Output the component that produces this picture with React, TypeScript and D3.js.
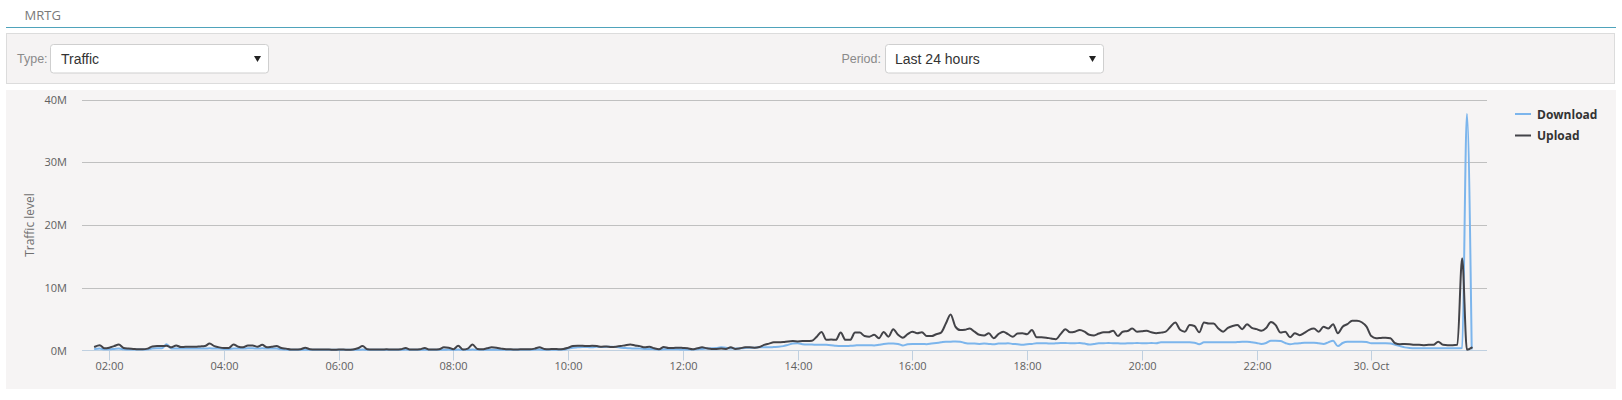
import React from "react";
import * as d3 from "d3";

const START = Date.UTC(2016, 9, 29, 1, 45);
const STEP_MIN = 5;

const UPLOAD: number[] = [
  0.6,0.85,0.35,0.45,0.7,0.95,0.4,0.3,0.25,0.2,0.2,0.3,
  0.65,0.7,0.7,0.75,0.5,0.8,0.55,0.6,0.6,0.6,0.65,0.7,
  1.1,0.7,0.5,0.4,0.4,0.95,0.6,0.5,0.8,0.8,0.6,0.9,
  0.5,0.6,0.7,0.4,0.3,0.15,0.15,0.2,0.45,0.2,0.15,0.15,
  0.15,0.15,0.1,0.15,0.15,0.1,0.15,0.35,0.7,0.2,0.15,0.15,
  0.15,0.2,0.15,0.15,0.2,0.4,0.15,0.15,0.2,0.4,0.15,0.15,
  0.2,0.5,0.45,0.2,0.75,0.15,0.3,0.95,0.25,0.2,0.35,0.5,
  0.45,0.3,0.2,0.2,0.15,0.2,0.2,0.2,0.3,0.5,0.25,0.2,
  0.25,0.2,0.25,0.45,0.7,0.75,0.75,0.7,0.75,0.7,0.6,0.65,
  0.55,0.6,0.7,0.85,0.95,0.8,0.7,0.5,0.6,0.35,0.2,0.55,
  0.4,0.4,0.45,0.4,0.35,0.2,0.35,0.5,0.35,0.25,0.25,0.3,
  0.25,0.5,0.25,0.35,0.5,0.5,0.45,0.55,0.9,1.1,1.3,1.3,
  1.35,1.45,1.5,1.45,1.5,1.5,1.55,2.2,2.95,1.7,1.75,1.7,
  2.85,1.7,1.7,2.85,2.85,2.3,2.2,2.5,1.95,2.95,2.2,3.4,
  2.5,2.05,2.6,3.0,2.75,2.9,2.3,2.3,2.6,2.85,4.3,5.75,
  3.8,3.25,3.3,3.5,3.0,2.5,2.4,2.75,1.95,2.6,3.0,2.6,
  2.2,2.7,2.75,2.6,3.25,2.1,2.1,2.05,1.9,1.8,2.6,3.4,
  2.9,3.0,3.25,3.0,2.5,2.4,2.7,2.9,2.9,3.15,2.3,3.0,
  3.1,3.5,3.0,3.05,3.15,2.9,2.75,2.85,3.0,3.8,4.45,3.3,
  3.0,4.05,3.9,2.9,4.45,4.3,4.3,3.5,3.0,3.6,3.9,4.05,
  3.4,4.2,3.6,3.4,3.15,3.6,4.55,4.05,2.85,3.0,2.1,2.75,
  2.45,2.8,3.3,3.5,3.0,3.8,3.5,4.2,2.75,3.8,4.2,4.75,
  4.75,4.5,3.8,2.3,1.95,2.0,2.05,1.95,1.15,1.0,1.05,1.0,
  0.9,0.9,0.85,0.9,0.9,1.4,0.9,0.85,0.85,0.9,14.7,0.1,
  0.45,
];

const DOWNLOAD: number[] = [
  0.25,0.3,0.2,0.2,0.25,0.3,0.2,0.15,0.15,0.15,0.15,0.2,
  0.3,0.35,0.35,1.0,0.3,0.3,0.3,0.3,0.3,0.3,0.3,0.3,
  0.35,0.3,0.3,0.25,0.25,0.3,0.3,0.3,0.35,0.35,0.3,0.35,
  0.3,0.3,0.3,0.2,0.15,0.1,0.1,0.1,0.1,0.1,0.1,0.1,
  0.1,0.1,0.1,0.1,0.1,0.1,0.1,0.1,0.15,0.1,0.1,0.1,
  0.1,0.1,0.1,0.1,0.1,0.15,0.1,0.1,0.1,0.1,0.1,0.1,
  0.1,0.1,0.15,0.1,0.15,0.1,0.1,0.15,0.1,0.1,0.1,0.1,
  0.1,0.1,0.1,0.1,0.1,0.1,0.1,0.1,0.15,0.15,0.1,0.1,
  0.1,0.1,0.15,0.3,0.45,0.5,0.55,0.55,0.5,0.6,0.55,0.6,
  0.6,0.55,0.45,0.4,0.35,0.3,0.3,0.25,0.25,0.2,0.15,0.2,
  0.2,0.2,0.2,0.15,0.15,0.15,0.2,0.25,0.3,0.35,0.4,0.5,
  0.45,0.3,0.3,0.35,0.4,0.45,0.45,0.5,0.5,0.5,0.55,0.6,
  0.7,0.9,1.1,1.15,1.0,0.95,0.95,0.9,0.9,0.9,0.85,0.75,
  0.7,0.7,0.75,0.8,0.85,0.85,0.85,0.8,0.9,1.05,1.1,1.1,
  1.05,0.8,1.0,1.05,1.05,1.05,1.0,1.1,1.2,1.3,1.4,1.4,
  1.45,1.4,1.2,1.1,1.1,1.05,1.1,1.05,1.0,1.1,1.1,1.15,
  1.05,1.0,0.9,1.0,1.05,1.15,1.15,1.15,1.1,1.15,1.2,1.2,
  1.15,1.15,1.2,1.1,0.95,1.05,1.15,1.15,1.2,1.15,1.15,1.1,
  1.15,1.15,1.2,1.15,1.15,1.2,1.15,1.3,1.3,1.3,1.3,1.3,
  1.3,1.3,1.25,1.0,1.3,1.3,1.3,1.3,1.3,1.3,1.3,1.35,
  1.4,1.4,1.3,1.2,1.05,1.2,1.55,1.55,1.5,1.2,1.0,1.1,
  1.15,1.25,1.25,1.25,1.15,1.05,1.3,1.55,0.7,1.2,1.4,1.4,
  1.4,1.4,1.35,1.15,1.15,1.15,1.15,1.1,0.9,0.7,0.5,0.4,
  0.35,0.35,0.35,0.35,0.35,0.35,0.35,0.35,0.35,0.35,0.4,37.7,
  0.3,
];

const Y_TICKS = [0, 10, 20, 30, 40];
const Y_TICK_LABELS = ["0M", "10M", "20M", "30M", "40M"];
const X_TICK_LABELS = ["02:00","04:00","06:00","08:00","10:00","12:00","14:00","16:00","18:00","20:00","22:00","30. Oct"];
const X_TICK_TIMES = X_TICK_LABELS.map((_, i) => Date.UTC(2016, 9, 29, 2 + i * 2, 0));
const SERIES = [
  { name: "Download", color: "#7cb5ec", values: DOWNLOAD },
  { name: "Upload", color: "#434348", values: UPLOAD },
];

const W = 1622, H = 400;
const PL = 82, PR = 1487, PT = 99.5, PB = 350.5;

export default function App() {
  const x = d3.scaleUtc()
    .domain([new Date(Date.UTC(2016, 9, 29, 1, 31, 30)), new Date(Date.UTC(2016, 9, 30, 2, 1))])
    .range([PL, PR]);
  const y = d3.scaleLinear().domain([0, 40]).range([PB, PT]);
  const line = d3.line<number>()
    .x((_, i) => x(new Date(START + i * STEP_MIN * 60000)))
    .y((v) => y(v))
    .curve(d3.curveMonotoneX);

  const labelFont = "'Open Sans', 'DejaVu Sans', sans-serif";
  const formFont = "'Liberation Sans', Arial, sans-serif";

  return (
    <div style={{ position: "absolute", left: 0, top: 0 }}>
      <svg width={W} height={H} style={{ display: "block", background: "#fff" }}>
        {/* header */}
        <text x={24.5} y={19.5} fontFamily={labelFont} fontSize={13} fill="#7a7a7a">MRTG</text>
        <line x1={6} x2={1616} y1={27.5} y2={27.5} stroke="#4fa3bb" strokeWidth={1} />

        {/* filter panel */}
        <rect x={6.5} y={33.5} width={1608} height={50} fill="#f5f3f3" stroke="#dcdcdc" />
        <text x={17} y={62.5} fontFamily={formFont} fontSize={12.5} fill="#8a8a8a">Type:</text>
        <rect x={50.5} y={44.5} width={218} height={28.5} rx={3} fill="#fff" stroke="#cfcfcf" />
        <text x={61} y={63.5} fontFamily={formFont} fontSize={14} fill="#333">Traffic</text>
        <path d="M254,56 L261,56 L257.5,62 Z" fill="#222" />
        <text x={881} y={62.5} textAnchor="end" fontFamily={formFont} fontSize={12.5} fill="#8a8a8a">Period:</text>
        <rect x={885.5} y={44.5} width={218} height={28.5} rx={3} fill="#fff" stroke="#cfcfcf" />
        <text x={895} y={63.5} fontFamily={formFont} fontSize={14} fill="#333">Last 24 hours</text>
        <path d="M1089,56 L1096,56 L1092.5,62 Z" fill="#222" />

        {/* chart background */}
        <rect x={6} y={90} width={1610} height={299} fill="#f6f4f4" />

        {/* gridlines and y labels */}
        {Y_TICKS.map((t, i) => (
          <g key={t}>
            {t !== 0 && (
              <line x1={PL} x2={PR} y1={Math.round(y(t)) + 0.5} y2={Math.round(y(t)) + 0.5} stroke="#c0c0c0" strokeWidth={1} />
            )}
            <text x={67} y={y(t) + 4} textAnchor="end" fontFamily={labelFont} fontSize={11} fill="#606060">
              {Y_TICK_LABELS[i]}
            </text>
          </g>
        ))}
        <text transform={`translate(34,225) rotate(-90)`} textAnchor="middle" fontFamily={labelFont} fontSize={12} fill="#707070">
          Traffic level
        </text>

        {/* x axis */}
        <line x1={PL} x2={PR} y1={PB} y2={PB} stroke="#c0d0e0" strokeWidth={1} />
        {X_TICK_TIMES.map((t, i) => {
          const px = Math.round(x(new Date(t))) + 0.5;
          return (
            <g key={t}>
              <line x1={px} x2={px} y1={PB} y2={PB + 10} stroke="#c0d0e0" strokeWidth={1} />
              <text x={px} y={369.5} textAnchor="middle" fontFamily={labelFont} fontSize={11} fill="#606060">
                {X_TICK_LABELS[i]}
              </text>
            </g>
          );
        })}

        {/* series */}
        {SERIES.map((s) => (
          <path key={s.name} d={line(s.values) || ""} fill="none" stroke={s.color} strokeWidth={2} strokeLinejoin="round" strokeLinecap="round" />
        ))}

        {/* legend */}
        {SERIES.map((s, i) => (
          <g key={s.name} transform={`translate(1515,${114 + i * 21.5})`}>
            <line x1={0} x2={16} y1={0} y2={0} stroke={s.color} strokeWidth={2} />
            <text x={22} y={4.5} fontFamily={labelFont} fontSize={12} fontWeight="bold" fill="#333">{s.name}</text>
          </g>
        ))}
      </svg>
    </div>
  );
}
